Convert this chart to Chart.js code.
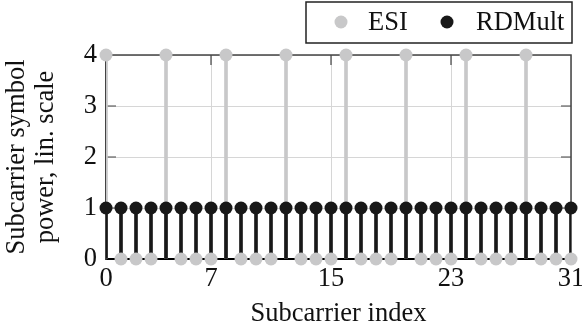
<!DOCTYPE html>
<html><head><meta charset="utf-8">
<script src="https://cdn.jsdelivr.net/npm/chart.js@4/dist/chart.umd.min.js"></script>
<style>html,body{margin:0;padding:0;background:#fff;} canvas{display:block}</style>
</head><body>
<canvas id="c" width="582" height="332"></canvas>
<script>
const subcarriers = [0,1,2,3,4,5,6,7,8,9,10,11,12,13,14,15,16,17,18,19,20,21,22,23,24,25,26,27,28,29,30,31];
const esiPower    = [4,0,0,0,4,0,0,0,4,0,0,0,4,0,0,0,4,0,0,0,4,0,0,0,4,0,0,0,4,0,0,0];
const rdmultPower = [1,1,1,1,1,1,1,1,1,1,1,1,1,1,1,1,1,1,1,1,1,1,1,1,1,1,1,1,1,1,1,1];
const xTickValues = [0,7,15,23,31];
const yTickValues = [0,1,2,3,4];
const seriesLabels = ['ESI','RDMult'];
const xTitle = 'Subcarrier index';
const yTitle = ['Subcarrier symbol','power, lin. scale'];

const GRAY = 'rgb(200,200,201)';
const BLACK = 'rgb(24,24,24)';
const FRAME = '#444';
const FONT = '"Liberation Serif", serif';
const FS = 26.5;

const pts = (ys) => subcarriers.map((x,i)=>({x:x,y:ys[i]}));

const framePlugin = {
  id:'frame',
  beforeDatasetsDraw(chart){
    const {ctx, chartArea:a, scales:{x,y}} = chart;
    ctx.save();
    ctx.strokeStyle = FRAME; ctx.lineWidth = 1.5;
    ctx.beginPath();
    ctx.moveTo(a.left, a.top); ctx.lineTo(a.right, a.top); ctx.lineTo(a.right, a.bottom);
    ctx.stroke();
    ctx.lineWidth = 1.2;
    ctx.beginPath();
    const tl = 10;
    yTickValues.slice(1,-1).forEach(v=>{
      const py = y.getPixelForValue(v);
      ctx.moveTo(a.left, py); ctx.lineTo(a.left+tl, py);
      ctx.moveTo(a.right, py); ctx.lineTo(a.right-tl, py);
    });
    xTickValues.slice(1,-1).forEach(v=>{
      const px = x.getPixelForValue(v);
      ctx.moveTo(px, a.top); ctx.lineTo(px, a.top+tl);
      ctx.moveTo(px, a.bottom); ctx.lineTo(px, a.bottom-tl);
    });
    ctx.stroke();
    ctx.restore();
  },
  afterDraw(chart){
    const ctx = chart.ctx;
    const box = {l:306, t:2, r:572, b:43};
    ctx.save();
    ctx.strokeStyle = '#222'; ctx.lineWidth = 1.5;
    ctx.strokeRect(box.l, box.t, box.r-box.l, box.b-box.t);
    const items = [
      {ds: chart.data.datasets[2], cx: 341, tx: 368},
      {ds: chart.data.datasets[3], cx: 447, tx: 476}
    ];
    const cy = 22;
    ctx.font = FS + 'px ' + FONT;
    ctx.textBaseline = 'alphabetic';
    ctx.textAlign = 'left';
    items.forEach(it=>{
      ctx.fillStyle = it.ds.pointBackgroundColor;
      ctx.beginPath(); ctx.arc(it.cx, cy, 6.5, 0, Math.PI*2); ctx.fill();
      ctx.fillStyle = '#111';
      ctx.fillText(it.ds.label, it.tx, 30);
    });
    ctx.restore();
  }
};

function build(){
new Chart(document.getElementById('c'), {
  type: 'scatter',
  data: {
    datasets: [
      {type:'bar', label:'ESI stems', data: pts(esiPower), backgroundColor: GRAY, barThickness: 3, grouped:false, borderWidth:0, order:4},
      {type:'bar', label:'RDMult stems', data: pts(rdmultPower), backgroundColor: BLACK, barThickness: 3, grouped:false, borderWidth:0, order:3},
      {type:'scatter', label: seriesLabels[0], data: pts(esiPower), pointBackgroundColor: GRAY, backgroundColor: GRAY, pointBorderWidth:0, pointRadius:6.5, pointHoverRadius:6.5, clip:false, order:2},
      {type:'scatter', label: seriesLabels[1], data: pts(rdmultPower), pointBackgroundColor: BLACK, backgroundColor: BLACK, pointBorderWidth:0, pointRadius:6.5, pointHoverRadius:6.5, clip:false, order:1}
    ]
  },
  options: {
    responsive:false, animation:false, devicePixelRatio:1,
    layout:{padding:{top:55, left:0, right:11, bottom:0}, autoPadding:false},
    plugins:{legend:{display:false}, tooltip:{enabled:false}},
    scales:{
      x:{
        type:'linear', min:0, max:31, offset:false,
        afterBuildTicks(s){ s.ticks = xTickValues.map(v=>({value:v})); },
        afterFit(s){ s.height = 73; s.paddingLeft = 0; s.paddingRight = 0; },
        grid:{color:'#d6d6d6', lineWidth:1, drawTicks:false, offset:false},
        border:{color:'#000', width:2},
        ticks:{padding:4, color:'#111', font:{family:FONT, size:FS}, maxRotation:0, autoSkip:false},
        title:{display:true, text:xTitle, color:'#111', font:{family:FONT, size:FS, lineHeight:1.2}, padding:{top:0,bottom:2}}
      },
      y:{
        type:'linear', min:0, max:4,
        afterBuildTicks(s){ s.ticks = yTickValues.map(v=>({value:v})); },
        afterFit(s){ s.width = 106; s.paddingTop = 0; s.paddingBottom = 0; },
        grid:{color:'#d6d6d6', lineWidth:1, drawTicks:false},
        border:{color:FRAME, width:1.5},
        ticks:{padding:9, color:'#111', font:{family:FONT, size:FS}},
        title:{display:true, text:yTitle, color:'#111', font:{family:FONT, size:FS, lineHeight:1.094}, padding:{top:2.5,bottom:0}}
      }
    }
  },
  plugins:[framePlugin]
});
}
if (document.fonts && document.fonts.load) {
  document.fonts.load(FS + 'px "Liberation Serif"').then(build, build);
} else build();
</script>
</body></html>
